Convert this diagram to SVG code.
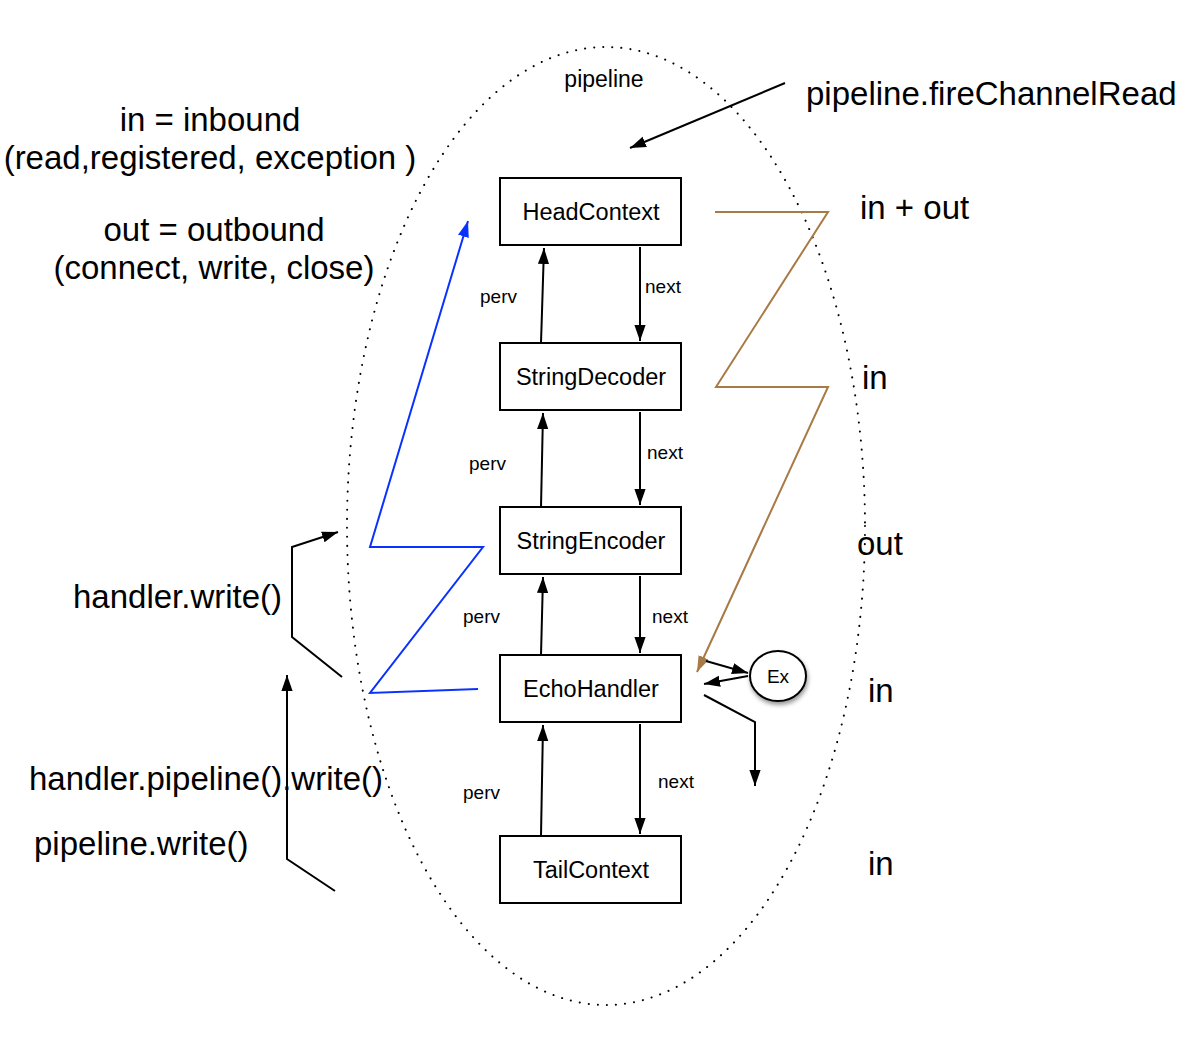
<svg xmlns="http://www.w3.org/2000/svg" width="1186" height="1056" viewBox="0 0 1186 1056">
<style>
text{font-family:"Liberation Sans",Arial,sans-serif;fill:#000}
.big{font-size:33px}
.box{fill:#fff;stroke:#000;stroke-width:2}
.bt{font-size:23.5px;text-anchor:middle}
.lbl{font-size:19px}
.ln{fill:none;stroke:#000;stroke-width:2}
.br{fill:none;stroke:#a87a45;stroke-width:2}
.bl{fill:none;stroke:#0a32ff;stroke-width:2}
</style>
<defs>
<marker id="ab" viewBox="0 0 10 10" refX="10" refY="5" markerWidth="16" markerHeight="16" orient="auto" markerUnits="userSpaceOnUse"><path d="M0,1.5 L10,5 L0,8.5 z" fill="#000"/></marker>
<marker id="abr" viewBox="0 0 10 10" refX="10" refY="5" markerWidth="16" markerHeight="16" orient="auto" markerUnits="userSpaceOnUse"><path d="M0,1.5 L10,5 L0,8.5 z" fill="#a87a45"/></marker>
<marker id="abl" viewBox="0 0 10 10" refX="10" refY="5" markerWidth="16" markerHeight="16" orient="auto" markerUnits="userSpaceOnUse"><path d="M0,1.5 L10,5 L0,8.5 z" fill="#0a32ff"/></marker>
<filter id="sh" x="-30%" y="-30%" width="170%" height="170%"><feDropShadow dx="1" dy="3" stdDeviation="2" flood-color="#000" flood-opacity="0.4"/></filter>
</defs>
<rect width="1186" height="1056" fill="#fff"/>
<g id="pipeline">
<ellipse cx="606" cy="526" rx="259" ry="479" fill="none" stroke="#000" stroke-width="2" stroke-dasharray="0.1 9" stroke-linecap="round"/>
<text x="604" y="87" font-size="23" text-anchor="middle">pipeline</text>
</g>
<g id="labels">
<text class="big" x="806" y="105">pipeline.fireChannelRead</text>
<text class="big" x="210" y="131" text-anchor="middle">in = inbound</text>
<text class="big" x="210" y="169" text-anchor="middle">(read,registered, exception )</text>
<text class="big" x="214" y="241" text-anchor="middle">out = outbound</text>
<text class="big" x="214" y="279" text-anchor="middle">(connect, write, close)</text>
<text class="big" x="860" y="219">in + out</text>
<text class="big" x="862" y="389">in</text>
<text class="big" x="857" y="555">out</text>
<text class="big" x="868" y="702">in</text>
<text class="big" x="868" y="875">in</text>
<text class="big" x="73" y="608">handler.write()</text>
<text class="big" x="29" y="790">handler.pipeline().write()</text>
<text class="big" x="34" y="855">pipeline.write()</text>
</g>
<g id="HeadContext"><rect class="box" x="500" y="178" width="181" height="67"/><text class="bt" x="591" y="220">HeadContext</text></g>
<g id="StringDecoder"><rect class="box" x="500" y="343" width="181" height="67"/><text class="bt" x="591" y="385">StringDecoder</text></g>
<g id="StringEncoder"><rect class="box" x="500" y="507" width="181" height="67"/><text class="bt" x="591" y="549">StringEncoder</text></g>
<g id="EchoHandler"><rect class="box" x="500" y="655" width="181" height="67"/><text class="bt" x="591" y="697">EchoHandler</text></g>
<g id="TailContext"><rect class="box" x="500" y="836" width="181" height="67"/><text class="bt" x="591" y="878">TailContext</text></g>
<g id="Ex"><ellipse cx="778" cy="676" rx="28" ry="25" fill="#fff" stroke="#000" stroke-width="2" filter="url(#sh)"/><text x="778" y="683" font-size="19" text-anchor="middle">Ex</text></g>
<g id="connectors">
<line class="ln" x1="541" y1="343" x2="544" y2="248" marker-end="url(#ab)"/>
<line class="ln" x1="640" y1="247" x2="640" y2="341" marker-end="url(#ab)"/>
<line class="ln" x1="541" y1="507" x2="543" y2="413" marker-end="url(#ab)"/>
<line class="ln" x1="640" y1="412" x2="640" y2="505" marker-end="url(#ab)"/>
<line class="ln" x1="541" y1="655" x2="543" y2="577" marker-end="url(#ab)"/>
<line class="ln" x1="640" y1="576" x2="640" y2="653" marker-end="url(#ab)"/>
<line class="ln" x1="541" y1="836" x2="543" y2="725" marker-end="url(#ab)"/>
<line class="ln" x1="640" y1="724" x2="640" y2="834" marker-end="url(#ab)"/>
<text class="lbl" x="480" y="303">perv</text>
<text class="lbl" x="645" y="293">next</text>
<text class="lbl" x="469" y="470">perv</text>
<text class="lbl" x="647" y="459">next</text>
<text class="lbl" x="463" y="623">perv</text>
<text class="lbl" x="652" y="623">next</text>
<text class="lbl" x="463" y="799">perv</text>
<text class="lbl" x="658" y="788">next</text>
<line class="ln" x1="785" y1="83" x2="630" y2="148" marker-end="url(#ab)"/>
<polyline class="br" points="715,212 828,212 716,387 828,387 697,672" marker-end="url(#abr)"/>
<polyline class="bl" points="478,689 370,693 483,547 370,547 468,221" marker-end="url(#abl)"/>
<polyline class="ln" points="342,677 292,637 292,547 338,532" marker-end="url(#ab)"/>
<polyline class="ln" points="335,891 287,859 287,675" marker-end="url(#ab)"/>
<line class="ln" x1="706" y1="661" x2="748" y2="673" marker-end="url(#ab)"/>
<line class="ln" x1="748" y1="676" x2="704" y2="684" marker-end="url(#ab)"/>
<polyline class="ln" points="704,695 755,722 755,786" marker-end="url(#ab)"/>
</g>
</svg>
